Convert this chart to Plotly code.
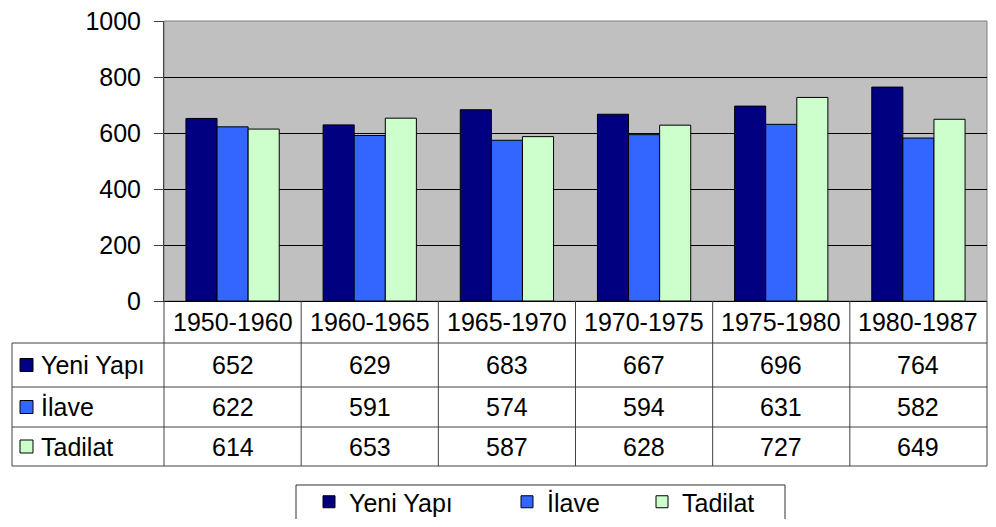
import plotly.graph_objects as go

donemler = ['1950-1960', '1960-1965', '1965-1970', '1970-1975', '1975-1980', '1980-1987']
seriler = ['Yeni Yapı', 'İlave', 'Tadilat']
yeni_yapi = [652, 629, 683, 667, 696, 764]
ilave = [622, 591, 574, 594, 631, 582]
tadilat = [614, 653, 587, 628, 727, 649]
renkler = ['#000080', '#3366FF', '#CCFFCC']

OFF = 8  # page body margin
W, H = 996 - 2 * OFF, 527 - 2 * OFF
FONT = 'Liberation Sans, Arial, sans-serif'
FS = 25


def px(x):
    return (x - OFF) / W


def py(y):
    return 1 - (y - OFF) / H


degerler = [yeni_yapi, ilave, tadilat]
lejantlar = ['legend', 'legend2', 'legend3']

fig = go.Figure()
for ad, vals, renk, lg in zip(seriler, degerler, renkler, lejantlar):
    fig.add_trace(go.Bar(
        x=donemler, y=vals, name=ad, showlegend=True,
        marker=dict(color=renk, line=dict(color='black', width=1)),
        legend=lg,
    ))

shapes = []
annotations = []

# plot area border
shapes.append(dict(type='rect', xref='x domain', yref='y domain', x0=0, x1=1, y0=0, y1=1,
                   line=dict(color='#808080', width=1), layer='below'))

# table grid
satir_y = [343, 387, 427, 466]
tablo_ust = 301
sol = 12
veri_sol = 164
sag = 987
col_w = (sag - veri_sol) / len(donemler)
for y in satir_y:
    shapes.append(dict(type='line', xref='paper', yref='paper', x0=px(sol), x1=px(sag),
                       y0=py(y), y1=py(y), line=dict(color='#404040', width=1)))
shapes.append(dict(type='line', xref='paper', yref='paper', x0=px(sol), x1=px(sol),
                   y0=py(satir_y[0]), y1=py(satir_y[-1]), line=dict(color='#404040', width=1)))
for i in range(len(donemler) + 1):
    x = veri_sol + i * col_w
    shapes.append(dict(type='line', xref='paper', yref='paper', x0=px(x), x1=px(x),
                       y0=py(tablo_ust), y1=py(satir_y[-1]), line=dict(color='#404040', width=1)))

# table header
for d in donemler:
    annotations.append(dict(x=d, xref='x', y=py((tablo_ust + satir_y[0]) / 2), yref='paper',
                            text=d, showarrow=False, xanchor='center', yanchor='middle',
                            font=dict(size=FS, color='black', family=FONT)))

# table rows
ust = satir_y[:-1]
alt = satir_y[1:]
for ad, vals, renk, y0, y1 in zip(seriler, degerler, renkler, ust, alt):
    yc = (y0 + y1) / 2
    shapes.append(dict(type='rect', xref='paper', yref='paper', x0=px(20), x1=px(33),
                       y0=py(yc - 6.5), y1=py(yc + 6.5), fillcolor=renk,
                       line=dict(color='black', width=1)))
    annotations.append(dict(x=px(39), xref='paper', y=py(yc), yref='paper', text=ad,
                            showarrow=False, xanchor='left', yanchor='middle',
                            font=dict(size=FS, color='black', family=FONT)))
    for d, v in zip(donemler, vals):
        annotations.append(dict(x=d, xref='x', y=py(yc), yref='paper', text=str(v),
                                showarrow=False, xanchor='center', yanchor='middle',
                                font=dict(size=FS, color='black', family=FONT)))

# legend box (open at the bottom, it runs past the page edge)
lx0, lx1, ly0, ly1 = px(296), px(785), -0.05, py(485)
shapes.append(dict(type='path', xref='paper', yref='paper',
                   path=f'M {lx0},{ly0} L {lx0},{ly1} L {lx1},{ly1} L {lx1},{ly0}',
                   line=dict(color='#303030', width=1), layer='below'))

leg_common = dict(orientation='h', yanchor='top', y=py(479), xanchor='left',
                  bgcolor='rgba(0,0,0,0)', borderwidth=0, tracegroupgap=0,
                  font=dict(size=FS, color='black', family=FONT))

fig.update_layout(
    width=W, height=H,
    margin=dict(l=0, r=0, t=0, b=0, autoexpand=False),
    paper_bgcolor='white',
    plot_bgcolor='#C0C0C0',
    showlegend=True,
    barmode='group', bargap=0.32, bargroupgap=0,
    font=dict(family=FONT, size=FS, color='black'),
    xaxis=dict(domain=[px(veri_sol), px(sag)], showticklabels=False, ticks='',
               showline=True, linecolor='black', linewidth=1),
    yaxis=dict(domain=[py(tablo_ust), py(21)], range=[0, 1000], dtick=200,
               showgrid=True, gridcolor='black', gridwidth=1,
               showline=True, linecolor='#404040', linewidth=1,
               ticks='outside', ticklen=9, tickcolor='#404040',
               ticklabelstandoff=8, ticklabeloverflow='allow', zeroline=False,
               tickfont=dict(size=FS, color='black', family=FONT)),
    legend=dict(x=px(309), **leg_common),
    legend2=dict(x=px(507), **leg_common),
    legend3=dict(x=px(642), **leg_common),
    shapes=shapes,
    annotations=annotations,
)

fig.write_html('out.html')
